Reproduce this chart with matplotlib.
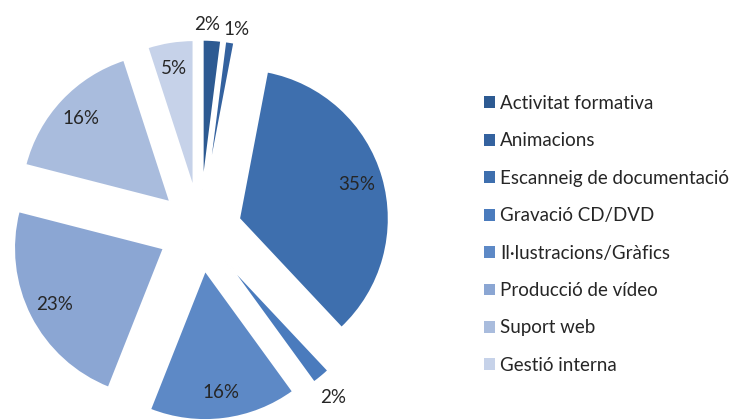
import numpy as np
import matplotlib.pyplot as plt
from matplotlib.patches import Patch

plt.rcParams['font.family'] = ['Lato', 'DejaVu Sans']

categories = [
    "Activitat formativa",
    "Animacions",
    "Escanneig de documentació",
    "Gravació CD/DVD",
    "Il·lustracions/Gràfics",
    "Producció de vídeo",
    "Suport web",
    "Gestió interna",
]
shares = [2, 1, 35, 2, 16, 23, 16, 5]
colors = ["#2d5a92", "#34629f", "#3e6fae", "#4a7bbd", "#5d89c6",
          "#8ba6d3", "#a9bcdd", "#c6d2e9"]
outsideLabels = [True, True, False, True, False, False, False, False]
# small pixel nudges for the crowded outside labels
labelNudge = [(-6, -9), (3, -11), (0, 0), (-4, -2), (0, 0), (0, 0), (0, 0), (0, 0)]

fig = plt.figure(figsize=(7.32, 4.2), dpi=100)
ax = fig.add_axes([0, 0, 400 / 732, 1])

radiusPx = 150
explode = [0.27] * len(shares)
wedges, _ = ax.pie(shares, colors=colors, startangle=90, counterclock=False,
                   explode=explode, radius=1,
                   wedgeprops=dict(edgecolor="white", linewidth=1.6))

for wedge, share, outside, nudge in zip(wedges, shares, outsideLabels, labelNudge):
    mid = np.deg2rad((wedge.theta1 + wedge.theta2) / 2)
    dist = 1.16 if outside else 0.82
    cx, cy = wedge.center
    ax.text(cx + dist * np.cos(mid) + nudge[0] / radiusPx,
            cy + dist * np.sin(mid) + nudge[1] / radiusPx, f"{share}%",
            ha="center", va="center", fontsize=13.5, color="#262626")

ax.set_aspect("auto")
ax.set_xlim(-200 / radiusPx, 200 / radiusPx)
ax.set_ylim(-190 / radiusPx, 230 / radiusPx)

handles = [Patch(facecolor=c, edgecolor="none") for c in colors]
fig.legend(handles, categories, loc="upper left", bbox_to_anchor=(467 / 732, 1 - 78 / 420),
           frameon=False, fontsize=13.5, labelspacing=1.09, handlelength=0.6,
           handleheight=0.6, handletextpad=0.25, labelcolor="#262626")

fig.savefig("out.png", dpi=100, facecolor="white")
